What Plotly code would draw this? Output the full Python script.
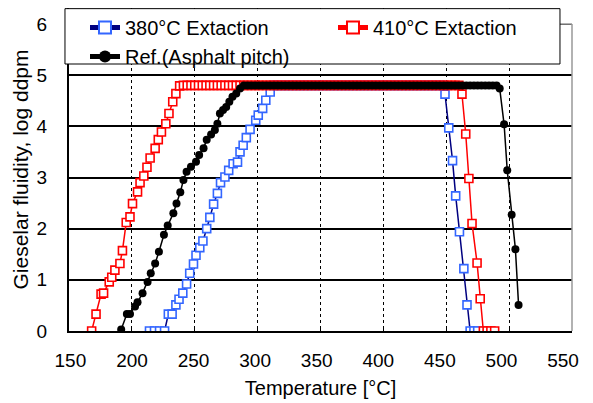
import plotly.graph_objects as go

# ---- 380 C extraction ----
t380 = [214, 218, 222, 226, 229, 232, 235, 237.5, 240.5, 243.5, 246, 249, 251, 254, 256.5,
        259.5, 262, 265, 268, 270.5, 274, 277, 280.5, 284, 286, 288.5, 291, 294, 298.5, 300.5,
        304, 306.5, 310, 312.5,
        315, 318, 321, 324, 327, 330, 333, 336, 339, 342, 345, 348, 351, 354, 357, 360,
        363, 366, 369, 372, 375, 378, 381, 384, 387, 390, 393, 396, 399, 402, 405, 408,
        411, 414, 417, 420, 423, 426, 429, 432, 435, 438, 441, 444,
        447, 449, 452, 455, 457.5, 460.5, 464, 466.5, 469, 472, 475]
v380 = [0, 0, 0, 0, 0.33, 0.33, 0.51, 0.62, 0.74, 0.92, 1.13, 1.31, 1.48, 1.63, 1.76,
        2.0, 2.22, 2.48, 2.69, 2.9, 3.01, 3.14, 3.27, 3.3, 3.5, 3.63, 3.78, 3.94, 4.12, 4.22,
        4.35, 4.51, 4.67, 4.8,
        4.8, 4.8, 4.8, 4.8, 4.8, 4.8, 4.8, 4.8, 4.8, 4.8, 4.8, 4.8, 4.8, 4.8, 4.8, 4.8,
        4.8, 4.8, 4.8, 4.8, 4.8, 4.8, 4.8, 4.8, 4.8, 4.8, 4.8, 4.8, 4.8, 4.8, 4.8, 4.8,
        4.8, 4.8, 4.8, 4.8, 4.8, 4.8, 4.8, 4.8, 4.8, 4.8, 4.8, 4.8,
        4.8, 4.63, 3.97, 3.33, 2.64, 1.94, 1.22, 0.51, 0, 0, 0]

# ---- 410 C extraction ----
t410 = [168, 171.5, 175.5, 177.5, 182, 184, 186.5, 190.5, 192.5, 195.5, 198.5, 200.5, 204.5,
        206.5, 209.5, 212, 214.5, 218.5, 221, 223.5, 227, 229.5, 232.5, 235, 238,
        241, 244, 247, 250, 253, 256, 259, 262, 265, 268, 271, 274, 277, 280, 283, 286,
        289, 292, 295, 298, 301, 304, 307, 310, 313, 316, 319, 322, 325, 328, 331, 334,
        337, 340, 343, 346, 349, 352, 355, 358, 361, 364, 367, 370, 373, 376, 379, 382,
        385, 388, 391, 394, 397, 400, 403, 406, 409, 412, 415, 418, 421, 424, 427, 430,
        433, 436, 439, 442, 445, 448, 451, 454, 457, 460,
        462.5, 465.5, 468, 470.5, 474.5, 477, 479.5, 482.5, 485.5, 488.5]
v410 = [0, 0.33, 0.72, 0.74, 0.96, 1.05, 1.19, 1.32, 1.57, 2.12, 2.23, 2.49, 2.72,
        2.9, 3.03, 3.2, 3.38, 3.57, 3.74, 3.89, 4.05, 4.25, 4.48, 4.64, 4.79,
        4.8, 4.8, 4.8, 4.8, 4.8, 4.8, 4.8, 4.8, 4.8, 4.8, 4.8, 4.8, 4.8, 4.8, 4.8, 4.8,
        4.8, 4.8, 4.8, 4.8, 4.8, 4.8, 4.8, 4.8, 4.8, 4.8, 4.8, 4.8, 4.8, 4.8, 4.8, 4.8,
        4.8, 4.8, 4.8, 4.8, 4.8, 4.8, 4.8, 4.8, 4.8, 4.8, 4.8, 4.8, 4.8, 4.8, 4.8, 4.8,
        4.8, 4.8, 4.8, 4.8, 4.8, 4.8, 4.8, 4.8, 4.8, 4.8, 4.8, 4.8, 4.8, 4.8, 4.8, 4.8,
        4.8, 4.8, 4.8, 4.8, 4.8, 4.8, 4.8, 4.8, 4.8, 4.8,
        4.63, 3.85, 2.98, 2.10, 1.33, 0.63, 0, 0, 0, 0]

# ---- Reference (asphalt pitch) ----
tref = [191.5, 196, 198.5, 202.5, 204.5, 208.5, 212.5, 215, 218.5, 221.5, 225.5, 228.5, 233,
        235.5, 238.5, 241, 243.5, 247, 251, 253.5, 257, 259.5, 263, 266, 268, 270, 272.5,
        275, 277.5, 280, 283, 286,
        289, 292, 295, 298, 301, 304, 307, 310, 313, 316, 319, 322, 325, 328, 331, 334,
        337, 340, 343, 346, 349, 352, 355, 358, 361, 364, 367, 370, 373, 376, 379, 382,
        385, 388, 391, 394, 397, 400, 403, 406, 409, 412, 415, 418, 421, 424, 427, 430,
        433, 436, 439, 442, 445, 448, 451, 454, 457, 460, 463, 466, 469, 472, 475, 478,
        481, 484, 487, 490,
        492.5, 496, 498.5, 502, 505, 507.5]
vref = [0.03, 0.33, 0.33, 0.48, 0.56, 0.74, 0.96, 1.13, 1.32, 1.55, 1.88, 2.06, 2.3,
        2.49, 2.71, 2.95, 3.11, 3.21, 3.31, 3.44, 3.57, 3.74, 3.84, 3.93, 4.05, 4.25, 4.32,
        4.38, 4.48, 4.58, 4.64, 4.74,
        4.8, 4.8, 4.8, 4.8, 4.8, 4.8, 4.8, 4.8, 4.8, 4.8, 4.8, 4.8, 4.8, 4.8, 4.8, 4.8,
        4.8, 4.8, 4.8, 4.8, 4.8, 4.8, 4.8, 4.8, 4.8, 4.8, 4.8, 4.8, 4.8, 4.8, 4.8, 4.8,
        4.8, 4.8, 4.8, 4.8, 4.8, 4.8, 4.8, 4.8, 4.8, 4.8, 4.8, 4.8, 4.8, 4.8, 4.8, 4.8,
        4.8, 4.8, 4.8, 4.8, 4.8, 4.8, 4.8, 4.8, 4.8, 4.8, 4.8, 4.8, 4.8, 4.8, 4.8, 4.8,
        4.8, 4.8, 4.8, 4.8,
        4.74, 4.04, 3.14, 2.27, 1.6, 0.51]

names = ["380°C Extaction", "410°C Extaction", "Ref.(Asphalt pitch)"]
x_ticks = [150, 200, 250, 300, 350, 400, 450, 500, 550]
y_ticks = [0, 1, 2, 3, 4, 5, 6]

FONT = "Liberation Sans, Arial, sans-serif"
Y_TOP = 6.3127   # plot area extends a little above 6 so the legend box can sit there

fig = go.Figure()
fig.add_trace(go.Scatter(
    x=t380, y=v380, name=names[0], mode="lines+markers",
    line=dict(color="#000080", width=1.5),
    marker=dict(symbol="square", size=8, color="white",
                line=dict(color="#3366ff", width=1.6)),
))
fig.add_trace(go.Scatter(
    x=t410, y=v410, name=names[1], mode="lines+markers",
    line=dict(color="#ff0000", width=1.5),
    marker=dict(symbol="square", size=8, color="white",
                line=dict(color="#ff0000", width=1.6)),
))
fig.add_trace(go.Scatter(
    x=tref, y=vref, name=names[2], mode="lines+markers",
    line=dict(color="black", width=1.5),
    marker=dict(symbol="circle", size=8, color="black"),
))
# empty helper trace so the label axis exists
fig.add_trace(go.Scatter(x=[], y=[], xaxis="x2", showlegend=False, hoverinfo="skip"))

fig.update_layout(
    width=593, height=403,
    margin=dict(l=61, r=29, t=0, b=80),
    paper_bgcolor="white", plot_bgcolor="white",
    font=dict(family=FONT, color="black", size=19),
    showlegend=True,
    legend=dict(
        orientation="h", x=0.0318, y=1.0, xanchor="left", yanchor="top",
        bgcolor="rgba(0,0,0,0)", borderwidth=0,
        font=dict(size=20, family=FONT, color="black"),
        entrywidth=203, entrywidthmode="pixels", itemsizing="constant",
        tracegroupgap=0,
    ),
    xaxis=dict(
        range=[150, 550], tickvals=x_ticks, showticklabels=False,
        showgrid=True, gridcolor="black", griddash="dot", gridwidth=1,
        showline=True, linecolor="black", linewidth=2,
        ticks="inside", ticklen=5, tickcolor="black",
        zeroline=False, automargin=False,
    ),
    xaxis2=dict(
        overlaying="x", anchor="y", side="bottom",
        range=[148.86, 557.3], tickvals=x_ticks, ticktext=[str(v) for v in x_ticks],
        showgrid=False, showline=False, ticks="", zeroline=False,
        tickfont=dict(size=19), ticklabelstandoff=16, automargin=False,
        title=dict(text="Temperature [°C]", font=dict(size=20), standoff=10),
    ),
    yaxis=dict(
        range=[0, Y_TOP], tickvals=y_ticks, ticktext=[str(v) for v in y_ticks],
        showgrid=True, gridcolor="black", gridwidth=1.5,
        showline=True, linecolor="black", linewidth=2,
        ticks="", tickfont=dict(size=19), zeroline=False, automargin=False,
        ticklabelstandoff=16,
        title=dict(text="Gieselar fluidity, log ddpm", font=dict(size=21), standoff=2),
    ),
    shapes=[
        # hide grid stubs above the top of the frame
        dict(type="rect", xref="paper", yref="y", x0=0.97, x1=1.02, y0=6, y1=Y_TOP,
             fillcolor="white", line=dict(width=0), layer="above"),
        # grey frame on right and top
        dict(type="line", xref="paper", yref="y", x0=1, x1=1, y0=0, y1=6,
             line=dict(color="#999999", width=1.5), layer="above"),
        dict(type="line", xref="paper", yref="y", x0=0, x1=1, y0=6, y1=6,
             line=dict(color="#999999", width=1.5), layer="above"),
        # legend box
        dict(type="rect", xref="paper", yref="paper", x0=-0.008, x1=0.9761,
             y0=0.8266, y1=0.998, fillcolor="white",
             line=dict(color="black", width=1), layer="above"),
    ],
)

fig.write_html("out.html")
